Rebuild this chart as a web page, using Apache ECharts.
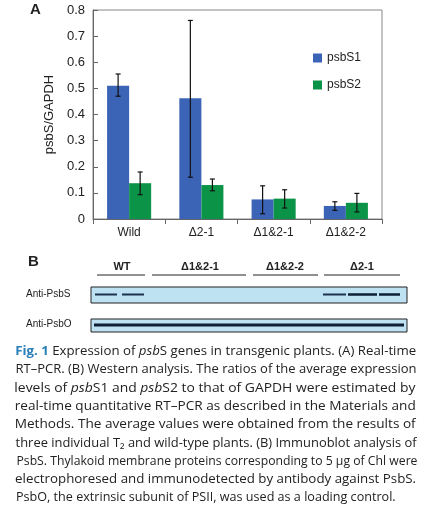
<!DOCTYPE html><html><head><meta charset="utf-8"><script src="https://cdn.jsdelivr.net/npm/echarts@6/dist/echarts.min.js"></script>
<style>html,body{margin:0;padding:0;background:#fff}#c{width:424px;height:512px}</style></head><body><div id="c"></div><script>
var categories=['Wild','\u03942-1','\u03941&2-1','\u03941&2-2'];
var psbS1=[0.51,0.462,0.075,0.05];
var psbS1Low=[0.47,0.16,0.02,0.033];
var psbS1High=[0.555,0.76,0.127,0.066];
var psbS2=[0.137,0.13,0.078,0.062];
var psbS2Low=[0.093,0.108,0.042,0.027];
var psbS2High=[0.18,0.153,0.112,0.098];
var yTicks=[0,0.1,0.2,0.3,0.4,0.5,0.6,0.7,0.8];
var blotHeaders=['WT','\u03941&2-1','\u03941&2-2','\u03942-1'];
var caption=[
'{b|Fig. 1} Expression of {it|psb}S genes in transgenic plants. (A) Real-time',
'RT\u2013PCR. (B) Western analysis. The ratios of the average expression',
'levels of {it|psb}S1 and {it|psb}S2 to that of GAPDH were estimated by',
'real-time quantitative RT\u2013PCR as described in the Materials and',
'Methods. The average values were obtained from the results of',
'three individual T\u2082 and wild-type plants. (B) Immunoblot analysis of',
'PsbS. Thylakoid membrane proteins corresponding to 5 \u00b5g of Chl were',
'electrophoresed and immunodetected by antibody against PsbS.',
'PsbO, the extrinsic subunit of PSII, was used as a loading control.'];
var FS='12.6px "Open Sans"';
var cv=document.createElement('canvas').getContext('2d');
function measure(t){
  var w=0,re=/\{(b|it)\|([^}]*)\}|([^{]+)/g,m;
  while((m=re.exec(t))){
    if(m[1]){cv.font=(m[1]==='b'?'bold ':'italic ')+FS;w+=cv.measureText(m[2]).width;}
    else{cv.font=FS;w+=cv.measureText(m[3]).width;}
  }
  return w;
}
var c=echarts.init(document.getElementById('c'));
function errSeries(low,high,idx){
  return {type:'custom',z:10,data:low.map(function(l,i){return [i,l,high[i]];}),
    renderItem:function(p,api){
      var i=api.value(0);var a=api.coord([i,api.value(1)]),b=api.coord([i,api.value(2)]);
      var bw=api.size([1,0])[0]*0.61/2;var x=a[0]+(idx===0?-bw/2:bw/2);
      var st={stroke:'#111',lineWidth:1.2};
      return {type:'group',children:[
        {type:'line',shape:{x1:x,y1:a[1],x2:x,y2:b[1]},style:st},
        {type:'line',shape:{x1:x-2.5,y1:a[1],x2:x+2.5,y2:a[1]},style:st},
        {type:'line',shape:{x1:x-2.5,y1:b[1],x2:x+2.5,y2:b[1]},style:st}]};
    }};
}
var g=[];
g.push({type:'text',left:30,top:2,style:{text:'A',font:'bold 15px Arial',fill:'#222'}});
g.push({type:'text',left:28,top:254,style:{text:'B',font:'bold 15px Arial',fill:'#222'}});
var hx=[122,200,285,362],ul=[[97,145],[152,246],[253,318],[324,400]];
blotHeaders.forEach(function(h,i){
  g.push({type:'text',x:hx[i],y:261,style:{text:h,font:'bold 11px Arial',fill:'#222',align:'center'}});
  g.push({type:'line',shape:{x1:ul[i][0],y1:275,x2:ul[i][1],y2:275},style:{stroke:'#222',lineWidth:1}});
});
g.push({type:'text',x:26,y:289,style:{text:'Anti-PsbS',font:'10px Arial',fill:'#222'}});
g.push({type:'text',x:26,y:319,style:{text:'Anti-PsbO',font:'10px Arial',fill:'#222'}});
g.push({type:'rect',shape:{x:91,y:287,width:316,height:16},style:{fill:'#bfe2f2',stroke:'#222',lineWidth:1}});
g.push({type:'rect',shape:{x:91,y:319,width:316,height:13},style:{fill:'#bfe2f2',stroke:'#222',lineWidth:1}});
[[95,117],[122,144],[323,346],[348,377],[379,400]].forEach(function(s,i){
  g.push({type:'line',shape:{x1:s[0],y1:294.5,x2:s[1],y2:294.5},style:{stroke:i>=3?'#0d1f33':'#1c3350',lineWidth:i>=3?2.5:2}});
});
g.push({type:'line',shape:{x1:94,y1:325,x2:404,y2:325},style:{stroke:'#0d1f33',lineWidth:3}});
caption.forEach(function(t,i){
  var y=345+i*18.3;
  var w=measure(t);var target=401;
  var sx=(i===caption.length-1)?Math.min(1,target/w):target/w;
  g.push({type:'text',x:16,y:y,scaleX:sx,originX:16,style:{text:t,font:FS,fill:'#222',
    rich:{b:{font:'bold '+FS,fill:'#2a7fb8'},it:{font:'italic '+FS,fill:'#222'}}}});
});
c.setOption({
  animation:false,
  grid:{left:93,right:42,top:10,bottom:293,show:true,borderColor:'#888',borderWidth:1},
  legend:{data:['psbS1','psbS2'],orient:'vertical',left:308,top:47,itemGap:15,itemWidth:9,itemHeight:9,icon:'rect',textStyle:{fontSize:12,fontFamily:'Arial',color:'#222'}},
  xAxis:{type:'category',data:categories,axisLine:{lineStyle:{color:'#666'}},axisTick:{show:true,lineStyle:{color:'#666'}},axisLabel:{fontSize:12,fontFamily:'Arial',color:'#222',margin:8}},
  yAxis:{type:'value',min:0,max:0.8,interval:0.1,name:'psbS/GAPDH',nameLocation:'middle',nameGap:33,nameTextStyle:{fontSize:13,fontFamily:'Arial',color:'#222'},
    axisLine:{show:true,lineStyle:{color:'#666'}},axisTick:{show:true,inside:true,lineStyle:{color:'#666'}},splitLine:{show:false},
    axisLabel:{fontSize:13,fontFamily:'Arial',color:'#222',formatter:function(v){var s=yTicks.find(function(t){return Math.abs(t-v)<1e-9;});return s===0?'0':String(s);}}},
  series:[
    {name:'psbS1',type:'bar',data:psbS1,itemStyle:{color:'#3b63b6'},barGap:'0%',barCategoryGap:'39%'},
    {name:'psbS2',type:'bar',data:psbS2,itemStyle:{color:'#0b9448'}},
    errSeries(psbS1Low,psbS1High,0),errSeries(psbS2Low,psbS2High,1)],
  graphic:g
});
</script></body></html>
